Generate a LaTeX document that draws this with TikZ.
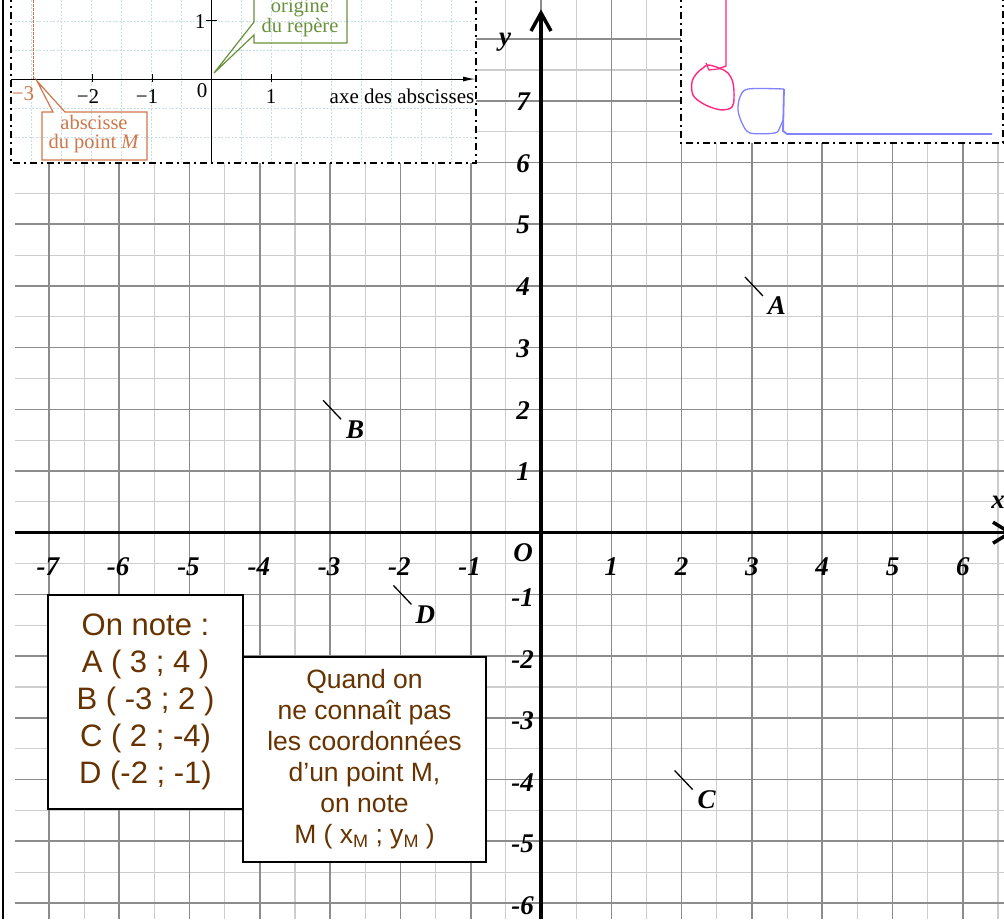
\documentclass[tikz,border=0pt]{standalone}
\usepackage{fontspec}
\setmainfont{Liberation Serif}
\newfontfamily\sansf{Liberation Sans}
\usetikzlibrary{arrows.meta}
\definecolor{gridmaj}{RGB}{140,140,140}
\definecolor{gridmin}{RGB}{205,205,205}
\definecolor{brownt}{RGB}{102,51,0}
\definecolor{orng}{RGB}{205,120,75}
\definecolor{grn}{RGB}{105,145,60}
\definecolor{pnk}{RGB}{255,40,130}
\definecolor{blu}{RGB}{130,130,255}
\definecolor{igrid}{RGB}{200,222,228}
\newcommand{\subM}{\raisebox{-0.25ex}{\fontsize{18}{18}\selectfont M}}
\tikzset{
 majline/.style={draw=gridmaj, line width=1.6pt},
 minline/.style={draw=gridmin, line width=1.1pt},
 axisline/.style={line width=3.5pt},
 chevron/.style={line width=3.5pt, line join=miter},
 axlabel/.style={font=\fontsize{27}{27}\selectfont\bfseries\itshape, inner sep=0pt},
 ptlabel/.style={font=\fontsize{27}{27}\selectfont\bfseries\itshape, inner sep=0pt},
 ptmark/.style={line width=1.3pt},
 notebox/.style={draw, line width=1.6pt, fill=white, text=brownt, align=center, inner sep=0pt},
 framebd/.style={draw, line width=2.2pt, dash pattern=on 7pt off 4pt on 2pt off 4pt},
 ilabel/.style={font=\fontsize{21}{21}\selectfont, inner sep=0pt},
 clabel/.style={font=\fontsize{20.5}{20.5}\selectfont, inner sep=0pt, text height=11pt, text depth=3pt},
 igridline/.style={draw=igrid, line width=0.8pt, dash pattern=on 2pt off 1.5pt},
 calloutline/.style={line width=1.2pt, line join=miter},
}
\begin{document}
\begin{tikzpicture}[x=1pt,y=-1pt]
\useasboundingbox (0,0) rectangle (1004,919);
\clip (0,0) rectangle (1004,919);
\fill[white] (0,0) rectangle (1004,919);
% ---- main grid
\foreach \k in {-7,...,6} {
  \draw[minline] ({541+70.3*\k+35.15},0) -- ({541+70.3*\k+35.15},919);
}
\foreach \k in {-8,...,5} {
  \draw[minline] (15,{532.7+61.7*\k+30.85}) -- (1004,{532.7+61.7*\k+30.85});
}
\foreach \k in {-7,...,6} {
  \draw[majline] ({541+70.3*\k},0) -- ({541+70.3*\k},919);
}
\foreach \k in {-8,...,6} {
  \draw[majline] (15,{532.7+61.7*\k}) -- (1004,{532.7+61.7*\k});
}
% left border line
\draw[line width=2pt] (2.5,0) -- (2.5,919);
% ---- axes
\coordinate (O) at (541,532.7);
\coordinate (xstart) at (15,532.7);
\coordinate (xend) at (1010,532.7);
\coordinate (ystart) at (541,919);
\coordinate (yend) at (541,13);
\draw[axisline] (xstart) -- (xend);
\draw[axisline] (ystart) -- (yend);
\draw[chevron] (xend) ++(-17,-10.5) -- (xend) -- ++(-17,10.5);
\draw[chevron] (yend) ++(-10,18) -- (yend) -- ++(10,18);
\node[axlabel] (xlab) at (998,502) {x};
\node[axlabel] (ylab) at (505,42) {y};
\node[axlabel] (olab) at (523,553) {O};
% x tick labels
\foreach \k in {-7,...,-1} {
  \node[axlabel] at ({541+70.3*\k-1},567) {\k};
}
\foreach \k in {1,...,6} {
  \node[axlabel] at ({541+70.3*\k},567) {\k};
}
% y tick labels
\foreach \k in {1,...,7} {
  \node[axlabel, anchor=east] at (530,{532.7-61.7*\k+1}) {\k};
}
\foreach \k in {1,...,6} {
  \node[axlabel, anchor=east] at (534,{532.7+61.7*\k+3}) {-\k};
}
% ---- points
\coordinate (A) at ({541+70.3*3},{532.7-61.7*4});
\coordinate (B) at ({541-70.3*3},{532.7-61.7*2});
\coordinate (C) at ({541+70.3*2},{532.7+61.7*4});
\coordinate (D) at ({541-70.3*2},{532.7+61.7*1});
\foreach \p in {A,B,C,D} {
  \draw[ptmark] (\p) ++(-7,-9) -- ++(18,19);
  \node[ptlabel] (l\p) at ([shift={(25,20)}]\p) {\p};
}
% ---- boxes
\node[notebox, minimum width=195pt, minimum height=214pt,
      font=\sansf\fontsize{31}{37}\selectfont] (box1) at (145.5,702)
  {On note :\\A ( 3 ; 4 )\\B ( -3 ; 2 )\\C ( 2 ; -4)\\D (-2 ; -1)};
\node[notebox, minimum width=243pt, minimum height=205pt,
      font=\sansf\fontsize{26.5}{31}\selectfont] (box2) at (364.5,759.5)
  {Quand on\\ne connaît pas\\les coordonnées\\d’un point M,\\on note\\M ( x\subM{} ; y\subM{} )};
% ---- top-left inset
\fill[white] (11,-5) rectangle (476,163);
\foreach \k in {-6,...,8} {
  \draw[igridline] ({211+30*\k},0) -- ({211+30*\k},163);
}
\foreach \k in {-2,...,2} {
  \draw[igridline] (11,{79+29*\k}) -- (476,{79+29*\k});
}
\coordinate (iO) at (211,79);
\coordinate (ixs) at (11,79);
\coordinate (ixe) at (475,79);
\coordinate (iyb) at (211,163);
\coordinate (iyt) at (211,-5);
\draw[line width=1pt, -{Latex[length=12pt,width=5pt]}] (ixs) -- (ixe);
\draw[line width=1pt] (iyb) -- (iyt);
\foreach \t in {92,152,271} { \draw[line width=1pt] (\t,74) -- (\t,82); }
\draw[line width=1pt] (206,20) -- (217,20);
\node[ilabel] (iym) at (88,97) {−2};
\node[ilabel] (iy1) at (147,97) {−1};
\node[ilabel] (iz) at (202,91) {0};
\node[ilabel] (ip1) at (271,97) {1};
\node[ilabel] (iy1v) at (200,22) {1};
\node[ilabel] (iaxe) at (402,96) {axe des abscisses};
% orange
\draw[orng, line width=1pt, dash pattern=on 2.5pt off 1.5pt] (33,0) -- (33,79);
\node[ilabel, text=orng] (im3) at (23,94) {−3};
\draw[orng, calloutline] (42,160) -- (42,112) -- (53,112) -- (37,81) -- (65,112) -- (147,112) -- (147,160) -- cycle;
\node[clabel, text=orng] (iabs1) at (94,125) {abscisse};
\node[clabel, text=orng] (iabs2) at (94,144) {du point \textit{M}};
% green
\draw[grn, calloutline] (254,-5) -- (254,22) -- (214,73) -- (254,35) -- (254,43) -- (347,43) -- (347,-5);
\node[clabel, text=grn] (ior1) at (300,8) {origine};
\node[clabel, text=grn] (ior2) at (300,28) {du repère};
\draw[framebd] (11,-5) -- (11,163) -- (476,163) -- (476,-5);
% ---- top-right inset
\fill[white] (681,-5) rectangle (1010,143);
\draw[pnk, line width=1.4pt] (726,0) -- (726,66) -- (718,69);
\draw[pnk, line width=1.4pt] plot[smooth cycle, tension=0.6] coordinates {(708,65) (719,68) (728,73) (733,83) (734,98) (732,107) (723,110) (713,108) (702,103) (693,95) (692,82) (697,73) (703,68)};
\draw[pnk, line width=1.2pt] (706,63) -- (709,70) -- (718,69);
\draw[blu, line width=1.3pt] plot[smooth, tension=0.5] coordinates {(784,89) (748,89) (740,97) (738,110) (742,123) (750,133) (775,133) (780,127) (783,120)};
\draw[blu, line width=1.8pt] (784,89) -- (783,131) -- (787,134) -- (992,134);
\draw[framebd] (681,-5) -- (681,143) -- (1003,143) -- (1003,-5);
\end{tikzpicture}
\end{document}
